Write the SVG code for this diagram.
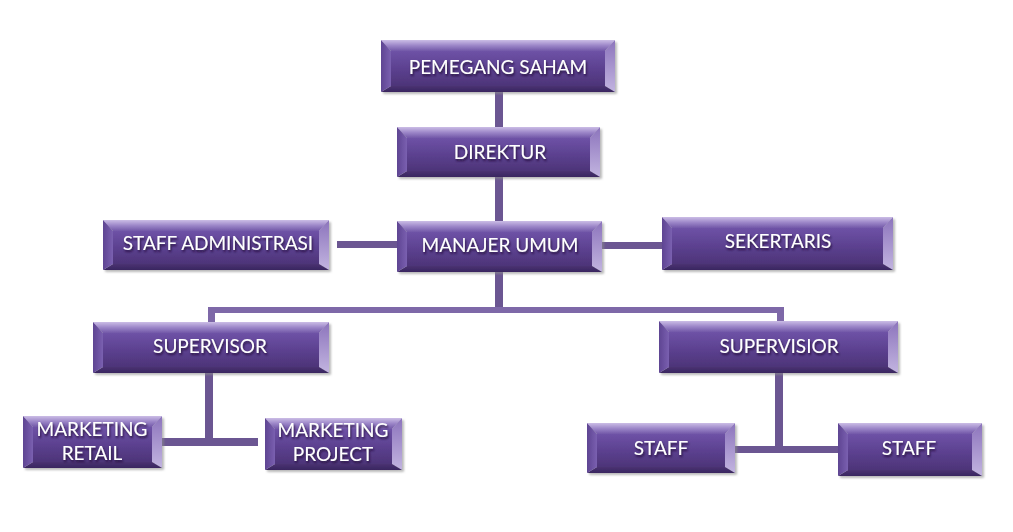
<svg xmlns="http://www.w3.org/2000/svg" width="1013" height="532" viewBox="0 0 1013 532">
<defs>
<linearGradient id="gFace" x1="0" y1="0" x2="0" y2="1">
<stop offset="0" stop-color="#6e52a6"/>
<stop offset="0.5" stop-color="#5c4190"/>
<stop offset="1" stop-color="#4d3478"/>
</linearGradient>
<linearGradient id="gTop" x1="0" y1="0" x2="0" y2="1">
<stop offset="0" stop-color="#cbbde6"/>
<stop offset="0.5" stop-color="#9c86c8"/>
<stop offset="1" stop-color="#7258a8"/>
</linearGradient>
<linearGradient id="gLeft" x1="0" y1="0" x2="1" y2="0">
<stop offset="0" stop-color="#5e4492"/>
<stop offset="1" stop-color="#7a60b0"/>
</linearGradient>
<linearGradient id="gRight" x1="0" y1="0" x2="0" y2="1">
<stop offset="0" stop-color="#8c74bc"/>
<stop offset="1" stop-color="#c2b4e0"/>
</linearGradient>
<linearGradient id="gBottom" x1="0" y1="0" x2="0" y2="1">
<stop offset="0" stop-color="#4a3272"/>
<stop offset="1" stop-color="#3a2660"/>
</linearGradient>
<filter id="tShadow" x="-10%" y="-30%" width="120%" height="160%">
<feDropShadow dx="1" dy="2" stdDeviation="1" flood-color="#1e1030" flood-opacity="0.85"/>
</filter>
<filter id="bShadow" x="-5%" y="-10%" width="112%" height="130%">
<feDropShadow dx="2" dy="2" stdDeviation="1.2" flood-color="#8a8a8a" flood-opacity="0.6"/>
</filter>
</defs>
<style>
.face{fill:url(#gFace)}
.top{fill:url(#gTop)}
.left{fill:url(#gLeft)}
.right{fill:url(#gRight)}
.bottom{fill:url(#gBottom)}
.box{filter:url(#bShadow)}
.lbl{font-family:Lato,"Open Sans","Liberation Sans",sans-serif;font-size:19px;fill:#ffffff;text-anchor:middle;filter:url(#tShadow)}
.conn{fill:#6b5692}
.bus{fill:#7e68a8}
</style>
<rect x="0" y="0" width="1013" height="532" fill="#ffffff"/>

<g id="connectors">
<rect class="conn" x="495" y="92" width="8" height="36"/>
<rect class="conn" x="495" y="177" width="8" height="45"/>
<rect class="conn" x="337" y="241" width="61" height="7"/>
<rect class="conn" x="602" y="242" width="61" height="7"/>
<rect class="conn" x="495" y="272" width="8" height="38"/>
<rect class="bus" x="208" y="307" width="576" height="6"/>
<rect class="bus" x="208" y="307" width="7" height="16"/>
<rect class="bus" x="777" y="307" width="7" height="15"/>
<rect class="conn" x="205" y="373" width="8" height="68"/>
<rect class="conn" x="162" y="438" width="96" height="8"/>
<rect class="conn" x="775" y="373" width="8" height="77"/>
<rect class="conn" x="735" y="446" width="103" height="7"/>
</g>

<g id="pemegang-saham">
<g class="box">
<rect class="face" x="391" y="51" width="214" height="35"/>
<polygon class="top" points="381,40 615,40 605,51 391,51"/>
<polygon class="right" points="615,40 615,92 605,86 605,51"/>
<polygon class="bottom" points="381,92 615,92 605,86 391,86"/>
<polygon class="left" points="381,40 391,51 391,86 381,92"/>
</g>
<text class="lbl" x="498" y="74">PEMEGANG SAHAM</text>
</g>

<g id="direktur">
<g class="box">
<rect class="face" x="407" y="138" width="183" height="33"/>
<polygon class="top" points="397,127 600,127 590,138 407,138"/>
<polygon class="right" points="600,127 600,177 590,171 590,138"/>
<polygon class="bottom" points="397,177 600,177 590,171 407,171"/>
<polygon class="left" points="397,127 407,138 407,171 397,177"/>
</g>
<text class="lbl" x="500" y="159">DIREKTUR</text>
</g>

<g id="staff-administrasi">
<g class="box">
<rect class="face" x="113" y="231" width="206" height="33"/>
<polygon class="top" points="103,220 329,220 319,231 113,231"/>
<polygon class="right" points="329,220 329,270 319,264 319,231"/>
<polygon class="bottom" points="103,270 329,270 319,264 113,264"/>
<polygon class="left" points="103,220 113,231 113,264 103,270"/>
</g>
<text class="lbl" x="218" y="250">STAFF ADMINISTRASI</text>
</g>

<g id="manajer-umum">
<g class="box">
<rect class="face" x="407" y="232" width="185" height="34"/>
<polygon class="top" points="397,221 602,221 592,232 407,232"/>
<polygon class="right" points="602,221 602,272 592,266 592,232"/>
<polygon class="bottom" points="397,272 602,272 592,266 407,266"/>
<polygon class="left" points="397,221 407,232 407,266 397,272"/>
</g>
<text class="lbl" x="500" y="252">MANAJER UMUM</text>
</g>

<g id="sekertaris">
<g class="box">
<rect class="face" x="672" y="228" width="211" height="36"/>
<polygon class="top" points="662,217 893,217 883,228 672,228"/>
<polygon class="right" points="893,217 893,270 883,264 883,228"/>
<polygon class="bottom" points="662,270 893,270 883,264 672,264"/>
<polygon class="left" points="662,217 672,228 672,264 662,270"/>
</g>
<text class="lbl" x="778" y="248">SEKERTARIS</text>
</g>

<g id="supervisor">
<g class="box">
<rect class="face" x="103" y="333" width="216" height="34"/>
<polygon class="top" points="93,322 329,322 319,333 103,333"/>
<polygon class="right" points="329,322 329,373 319,367 319,333"/>
<polygon class="bottom" points="93,373 329,373 319,367 103,367"/>
<polygon class="left" points="93,322 103,333 103,367 93,373"/>
</g>
<text class="lbl" x="210" y="353">SUPERVISOR</text>
</g>

<g id="supervisior">
<g class="box">
<rect class="face" x="669" y="332" width="219" height="35"/>
<polygon class="top" points="659,321 898,321 888,332 669,332"/>
<polygon class="right" points="898,321 898,373 888,367 888,332"/>
<polygon class="bottom" points="659,373 898,373 888,367 669,367"/>
<polygon class="left" points="659,321 669,332 669,367 659,373"/>
</g>
<text class="lbl" x="779" y="353">SUPERVISIOR</text>
</g>

<g id="marketing-retail">
<g class="box">
<rect class="face" x="33" y="427" width="119" height="35"/>
<polygon class="top" points="23,416 162,416 152,427 33,427"/>
<polygon class="right" points="162,416 162,468 152,462 152,427"/>
<polygon class="bottom" points="23,468 162,468 152,462 33,462"/>
<polygon class="left" points="23,416 33,427 33,462 23,468"/>
</g>
<text class="lbl" x="92" y="436">MARKETING</text>
<text class="lbl" x="92" y="460">RETAIL</text>
</g>

<g id="marketing-project">
<g class="box">
<rect class="face" x="275" y="429" width="117" height="35"/>
<polygon class="top" points="265,418 402,418 392,429 275,429"/>
<polygon class="right" points="402,418 402,470 392,464 392,429"/>
<polygon class="bottom" points="265,470 402,470 392,464 275,464"/>
<polygon class="left" points="265,418 275,429 275,464 265,470"/>
</g>
<text class="lbl" x="333" y="437">MARKETING</text>
<text class="lbl" x="333" y="461">PROJECT</text>
</g>

<g id="staff-1">
<g class="box">
<rect class="face" x="597" y="434" width="128" height="33"/>
<polygon class="top" points="587,423 735,423 725,434 597,434"/>
<polygon class="right" points="735,423 735,473 725,467 725,434"/>
<polygon class="bottom" points="587,473 735,473 725,467 597,467"/>
<polygon class="left" points="587,423 597,434 597,467 587,473"/>
</g>
<text class="lbl" x="661" y="455">STAFF</text>
</g>

<g id="staff-2">
<g class="box">
<rect class="face" x="848" y="434" width="124" height="36"/>
<polygon class="top" points="838,423 982,423 972,434 848,434"/>
<polygon class="right" points="982,423 982,476 972,470 972,434"/>
<polygon class="bottom" points="838,476 982,476 972,470 848,470"/>
<polygon class="left" points="838,423 848,434 848,470 838,476"/>
</g>
<text class="lbl" x="909" y="455">STAFF</text>
</g>
</svg>
